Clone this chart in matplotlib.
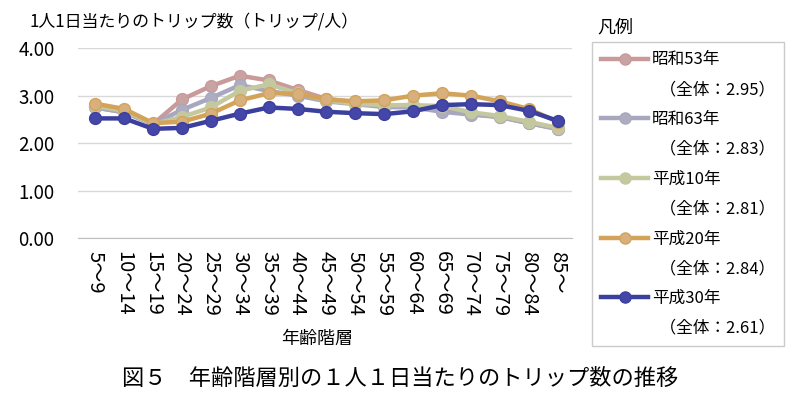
import matplotlib
matplotlib.use("Agg")
import matplotlib.pyplot as plt
from matplotlib.lines import Line2D

plt.rcParams['font.family'] = ['Noto Sans CJK JP', 'DejaVu Sans']

categories = ["5～9", "10～14", "15～19", "20～24", "25～29", "30～34", "35～39",
              "40～44", "45～49", "50～54", "55～59", "60～64", "65～69", "70～74",
              "75～79", "80～84", "85～"]

s53 = [2.75, 2.65, 2.40, 2.92, 3.20, 3.42, 3.32, 3.12, 2.93, 2.86, 2.80, 2.78, 2.72, 2.62, 2.55, 2.42, 2.30]
s63 = [2.75, 2.65, 2.40, 2.70, 2.95, 3.22, 3.10, 3.00, 2.88, 2.82, 2.76, 2.75, 2.66, 2.60, 2.55, 2.42, 2.30]
h10 = [2.78, 2.68, 2.40, 2.55, 2.75, 3.10, 3.24, 3.05, 2.90, 2.83, 2.80, 2.80, 2.78, 2.65, 2.57, 2.45, 2.32]
h20 = [2.83, 2.72, 2.42, 2.45, 2.62, 2.90, 3.05, 3.04, 2.92, 2.88, 2.90, 3.00, 3.05, 3.00, 2.88, 2.72, 2.45]
h30 = [2.52, 2.52, 2.30, 2.32, 2.47, 2.62, 2.75, 2.72, 2.66, 2.63, 2.61, 2.67, 2.80, 2.82, 2.80, 2.68, 2.47]

series_names = ["昭和53年", "昭和63年", "平成10年", "平成20年", "平成30年"]
totals = ["2.95", "2.83", "2.81", "2.84", "2.61"]
line_colors = ["#C89A9A", "#A8A7C0", "#C4C89E", "#D4A35A", "#3B3F9E"]
marker_colors = ["#C9A3A3", "#AEADC0", "#C4C89E", "#D8B07E", "#4447A8"]
yticks = [0.0, 1.0, 2.0, 3.0, 4.0]

fig = plt.figure(figsize=(8, 3.98), dpi=100)
ax = fig.add_axes([0.0975, 0.402, 0.6175, 0.477])

x = list(range(len(categories)))
data = [s53, s63, h10, h20, h30]
for vals, lc, mc in zip(data, line_colors, marker_colors):
    ax.plot(x, vals, color=lc, lw=3.2, marker='o', markersize=8.5,
            markerfacecolor=mc, markeredgecolor=lc, markeredgewidth=1, zorder=3)

ax.set_ylim(0, 4)
ax.set_xlim(-0.6, len(categories) - 0.5)
ax.set_yticks(yticks)
ax.set_yticklabels([f"{v:.2f}" for v in yticks], fontsize=13.5)
ax.yaxis.grid(True, color="#D9D9D9", lw=1)
ax.set_axisbelow(True)
ax.set_xticks(x)
ax.set_xticklabels(categories, rotation=270, fontsize=14.5, va='top', ha='center')
ax.tick_params(length=0, pad=9)
ax.tick_params(axis='y', pad=17)
for sp in ["top", "right", "left"]:
    ax.spines[sp].set_visible(False)
ax.spines["bottom"].set_color("#BFBFBF")
ax.set_xlabel("年齢階層", fontsize=13, va='center')
ax.xaxis.set_label_coords(0.485, -0.53)

fig.text(0.037, 0.945, "1人1日当たりのトリップ数（トリップ/人）", fontsize=12.2, va='center')

handles = []
labels = []
for name, tot, lc, mc in zip(series_names, totals, line_colors, marker_colors):
    handles.append(Line2D([], [], color=lc, lw=3.2, marker='o', markersize=8,
                          markerfacecolor=mc, markeredgecolor=lc))
    labels.append(name)
    handles.append(Line2D([], [], color='none'))
    labels.append("  （全体：" + tot + "）")

leg = fig.legend(handles, labels, loc='upper left', bbox_to_anchor=(0.74, 0.894),
                 fontsize=12, frameon=True, fancybox=False, edgecolor="#BFBFBF",
                 handlelength=2.8, handletextpad=0.25, labelspacing=0.77,
                 borderpad=0.55, borderaxespad=0)
leg.get_frame().set_linewidth(1)
fig.text(0.747, 0.93, "凡例", fontsize=13, va='center')

fig.text(0.5, 0.05, "図５　年齢階層別の１人１日当たりのトリップ数の推移", fontsize=16,
         ha='center', va='center')

fig.savefig("out.png", dpi=100)
